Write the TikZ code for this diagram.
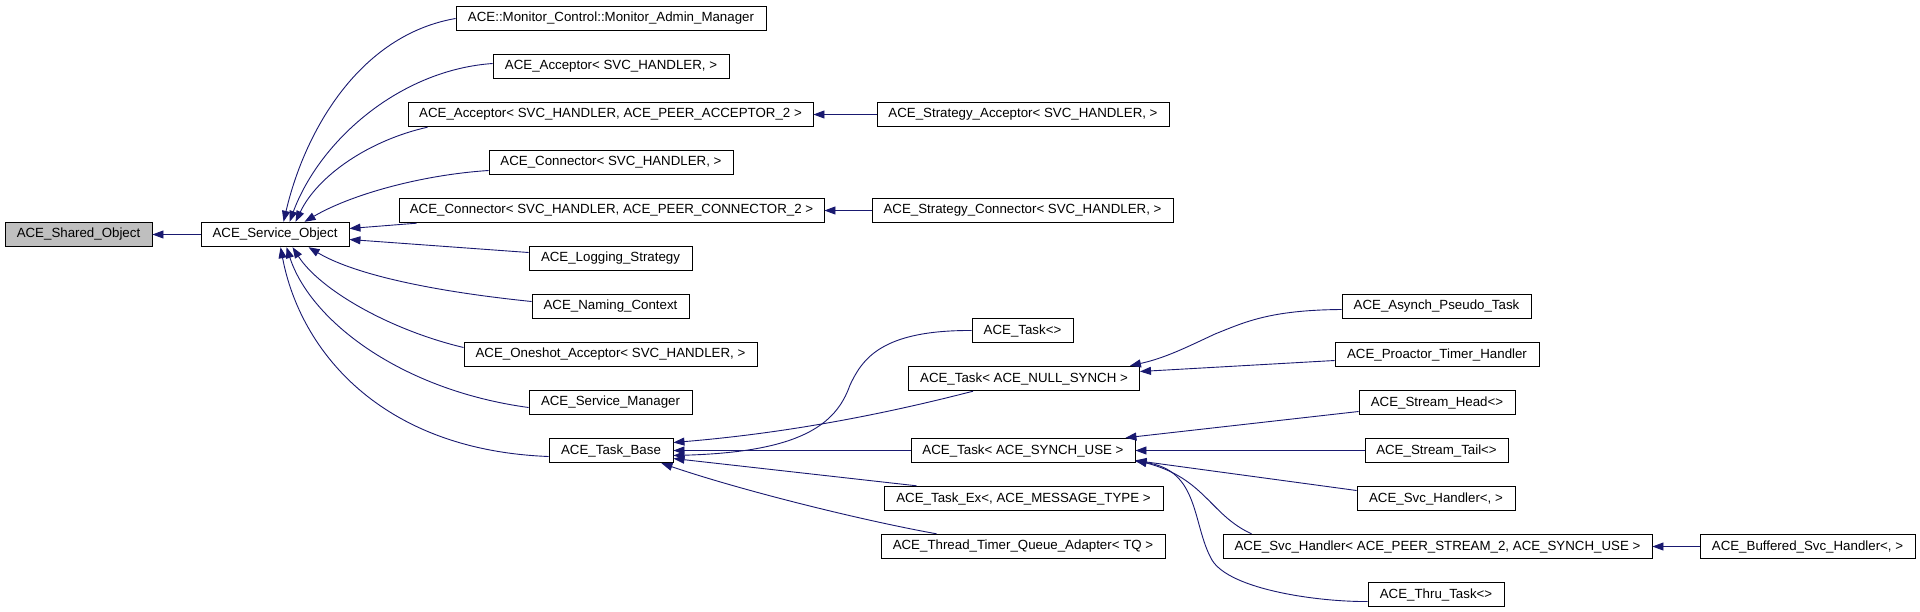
\documentclass[tikz,border=0pt]{standalone}
\usepackage{fontspec}
\setmainfont{Liberation Sans}
\usetikzlibrary{arrows.meta,calc}
\definecolor{navy}{RGB}{25,25,112}
\definecolor{grey75}{RGB}{191,191,191}
\begin{document}
\begin{tikzpicture}[x=1pt,y=-1pt,
  cls/.style={draw=black,line width=0.9pt,inner sep=0pt,minimum height=24.5pt,
    font=\fontsize{13.3}{16}\selectfont,fill=white},
  root/.style={cls,fill=grey75},
  inh/.style={draw=navy,line width=0.9pt,-{Triangle[length=11pt,width=8pt]}}]
\useasboundingbox[fill=white] (0,0) rectangle (1920,611);

% column 1-2
\node[root,minimum width=147pt] (shared) at (78.5,234.5) {ACE\_Shared\_Object};
\node[cls,minimum width=148pt] (svc) at (275,234.5) {ACE\_Service\_Object};

% column 3
\node[cls,minimum width=310pt] (mon) at (611,18.5) {ACE::Monitor\_Control::Monitor\_Admin\_Manager};
\node[cls,minimum width=236pt] (acc1) at (611,66.5) {ACE\_Acceptor< SVC\_HANDLER, >};
\node[cls,minimum width=405pt] (acc2) at (610.5,114.5) {ACE\_Acceptor< SVC\_HANDLER, ACE\_PEER\_ACCEPTOR\_2 >};
\node[cls,minimum width=244pt] (con1) at (611,162.5) {ACE\_Connector< SVC\_HANDLER, >};
\node[cls,minimum width=425pt] (con2) at (611.5,210.5) {ACE\_Connector< SVC\_HANDLER, ACE\_PEER\_CONNECTOR\_2 >};
\node[cls,minimum width=163pt] (log) at (610.5,258.5) {ACE\_Logging\_Strategy};
\node[cls,minimum width=157pt] (nam) at (610.5,306.5) {ACE\_Naming\_Context};
\node[cls,minimum width=293pt] (one) at (610.5,354.5) {ACE\_Oneshot\_Acceptor< SVC\_HANDLER, >};
\node[cls,minimum width=163pt] (sm) at (610.5,402.5) {ACE\_Service\_Manager};
\node[cls,minimum width=124pt] (tb) at (611,450.5) {ACE\_Task\_Base};

% column 4
\node[cls,minimum width=292pt] (sacc) at (1023,114.5) {ACE\_Strategy\_Acceptor< SVC\_HANDLER, >};
\node[cls,minimum width=301pt] (scon) at (1022.5,210.5) {ACE\_Strategy\_Connector< SVC\_HANDLER, >};
\node[cls,minimum width=101pt] (tany) at (1022.5,330.5) {ACE\_Task<>};
\node[cls,minimum width=231pt] (tnull) at (1024,378.5) {ACE\_Task< ACE\_NULL\_SYNCH >};
\node[cls,minimum width=224pt] (tsu) at (1023,450.5) {ACE\_Task< ACE\_SYNCH\_USE >};
\node[cls,minimum width=279pt] (tex) at (1023.5,498.5) {ACE\_Task\_Ex<, ACE\_MESSAGE\_TYPE >};
\node[cls,minimum width=284pt] (ttq) at (1023,546.5) {ACE\_Thread\_Timer\_Queue\_Adapter< TQ >};

% column 5
\node[cls,minimum width=189pt] (asy) at (1436.5,306.5) {ACE\_Asynch\_Pseudo\_Task};
\node[cls,minimum width=204pt] (pro) at (1437,354.5) {ACE\_Proactor\_Timer\_Handler};
\node[cls,minimum width=156pt] (sh) at (1437,402.5) {ACE\_Stream\_Head<>};
\node[cls,minimum width=143pt] (st) at (1436.5,450.5) {ACE\_Stream\_Tail<>};
\node[cls,minimum width=158pt] (svh) at (1436,498.5) {ACE\_Svc\_Handler<, >};
\node[cls,minimum width=429pt] (svp) at (1437.5,546.5) {ACE\_Svc\_Handler< ACE\_PEER\_STREAM\_2, ACE\_SYNCH\_USE >};
\node[cls,minimum width=136pt] (thru) at (1436,594.5) {ACE\_Thru\_Task<>};

% column 6
\node[cls,minimum width=215pt] (buf) at (1807.5,546.5) {ACE\_Buffered\_Svc\_Handler<, >};

% edges into ACE_Shared_Object / ACE_Service_Object
\draw[inh] (svc.west) -- (shared.east);
\draw[inh] (mon.west) .. controls (360,35) and (305,130) .. ($(svc.north west)+(83,0)$);
\draw[inh] ($(acc1.west)+(0,-3)$) .. controls (400,70) and (320,140) .. ($(svc.north west)+(89,0)$);
\draw[inh] ($(acc2.south west)+(20,0)$) .. controls (370,140) and (318,175) .. ($(svc.north west)+(95,0)$);
\draw[inh] ($(con1.west)+(0,8)$) .. controls (420,175) and (350,195) .. ($(svc.north west)+(104,0)$);
\draw[inh] ($(con2.south west)+(18,0)$) -- ($(svc.east)+(0,-6)$);
\draw[inh] ($(log.west)+(0,-6)$) -- ($(svc.east)+(0,5)$);
\draw[inh] ($(nam.west)+(0,-5)$) .. controls (420,290) and (350,272) .. ($(svc.south west)+(108,0)$);
\draw[inh] ($(one.west)+(0,-7)$) .. controls (390,330) and (320,290) .. ($(svc.south west)+(92,0)$);
\draw[inh] ($(sm.west)+(0,5)$) .. controls (400,390) and (310,320) .. ($(svc.south west)+(86,0)$);
\draw[inh] ($(tb.west)+(0,6)$) .. controls (380,450) and (300,350) .. ($(svc.south west)+(80,0)$);

% strategy classes
\draw[inh] (sacc.west) -- (acc2.east);
\draw[inh] (scon.west) -- (con2.east);

% into ACE_Task_Base
\draw[inh] (tsu.west) -- (tb.east);
\draw[inh] ($(tnull.south west)+(65,0)$) .. controls (900,410) and (800,432) .. ($(tb.east)+(0,-8)$);
\draw[inh] (tany.west) .. controls (880,330) and (862,360) .. (850,385)
  .. controls (836,425) and (800,452) .. ($(tb.east)+(0,5)$);
\draw[inh] ($(tex.north west)+(33,0)$) -- ($(tb.east)+(0,8)$);
\draw[inh] ($(ttq.north west)+(56,0)$) .. controls (860,520) and (740,490) .. ($(tb.south east)+(-12,0)$);

% into ACE_Task<ACE_NULL_SYNCH>
\draw[inh] ($(asy.west)+(0,3)$) .. controls (1270,310) and (1245,322) .. (1215,334)
  .. controls (1185,348) and (1165,358) .. ($(tnull.north east)+(-10,0)$);
\draw[inh] ($(pro.west)+(0,6)$) -- ($(tnull.east)+(0,-7)$);

% into ACE_Task<ACE_SYNCH_USE>
\draw[inh] ($(sh.west)+(0,9)$) -- ($(tsu.north east)+(-10,0)$);
\draw[inh] (st.west) -- (tsu.east);
\draw[inh] ($(svh.west)+(0,-8)$) -- ($(tsu.east)+(0,10)$);
\draw[inh] ($(svp.north west)+(29,0)$) .. controls (1210,515) and (1205,478) .. ($(tsu.south east)+(0,-3)$);
\draw[inh] ($(thru.west)+(0,7)$) .. controls (1320,602) and (1230,590) .. (1212,560)
  .. controls (1192,525) and (1200,470) .. ($(tsu.south east)+(0,-2)$);

% into ACE_Svc_Handler<PEER_STREAM_2>
\draw[inh] (buf.west) -- (svp.east);
\end{tikzpicture}
\end{document}
